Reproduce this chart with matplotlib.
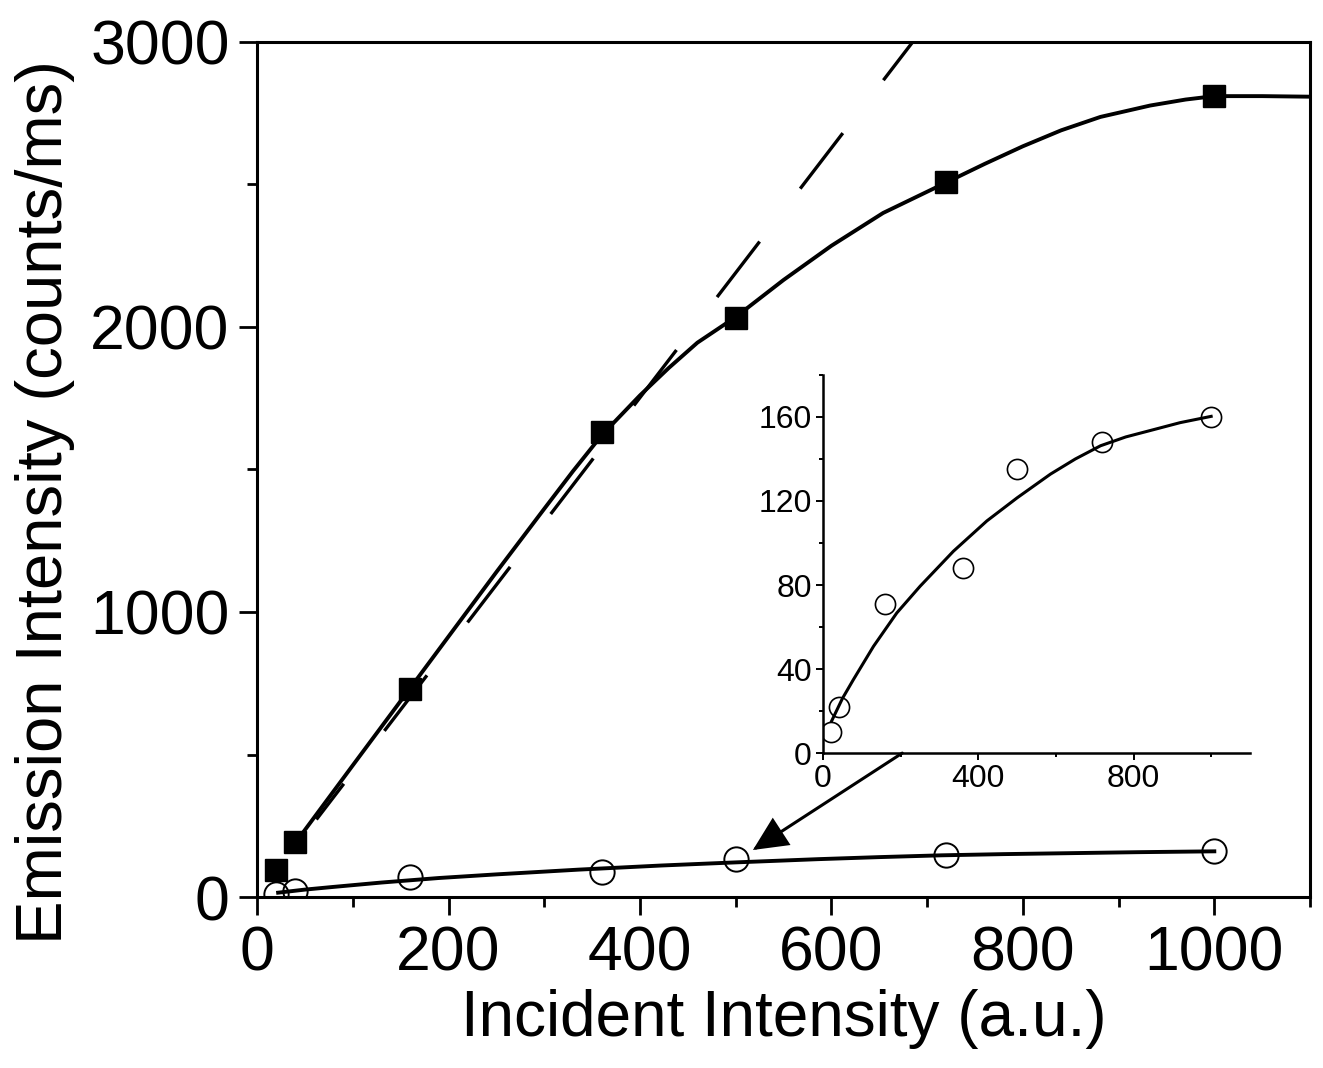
import matplotlib
matplotlib.use("Agg")
import matplotlib.pyplot as plt
from matplotlib.ticker import MultipleLocator

plt.rcParams['font.family'] = ['Liberation Sans', 'DejaVu Sans']

# ---- data ----
incident = [20, 40, 160, 360, 500, 720, 1000]
emission_filled = [95, 192, 730, 1632, 2032, 2510, 2812]
emission_open = [10, 22, 71, 88, 135, 148, 160]

fit_filled_x = [40, 100, 160, 250, 300, 330, 360, 400, 430, 460, 500, 550, 600,
                654, 720, 760, 800, 840, 881, 933, 970, 1000, 1050, 1100]
fit_filled_y = [190, 462, 733, 1140, 1362, 1494, 1620, 1760, 1856, 1945, 2035, 2165, 2285,
                2400, 2507, 2572, 2634, 2690, 2737, 2777, 2798, 2810, 2810, 2808]

fit_open_x = [22, 50, 78, 130, 190, 250, 336, 422, 500, 586, 650, 715, 780, 844, 920, 1000]
fit_open_y = [15.2, 26, 34.9, 50.8, 66.7, 79.4, 96.1, 110.5, 121.5, 132.8, 140, 146.3, 150.5, 153.6, 157.3, 160.3]

linear_x = [62, 700]
linear_y = [272, 3066]

main_xticks = [0, 200, 400, 600, 800, 1000]
main_yticks = [0, 1000, 2000, 3000]
inset_xticks = [0, 400, 800]
inset_yticks = [0, 40, 80, 120, 160]

fig = plt.figure(figsize=(13.23, 10.68), dpi=100)
ax = fig.add_axes([0.1943, 0.1601, 0.7959, 0.8006])

ax.plot(fit_filled_x, fit_filled_y, color='black', lw=2.8, zorder=3,
        solid_joinstyle='round')
ax.plot(linear_x, linear_y, color='black', lw=2.4, ls=(7.5, (21, 20)), zorder=2)
ax.plot(fit_open_x, fit_open_y, color='black', lw=2.8, zorder=3,
        solid_joinstyle='round')
ax.plot(incident, emission_filled, ls='none', marker='s', ms=16.5, color='black', zorder=4)
ax.plot(incident, emission_open, ls='none', marker='o', ms=17.5, mfc='none', mec='black', mew=1.4, zorder=4)

ax.set_xlim(0, 1100)
ax.set_ylim(0, 3000)
ax.set_xticks(main_xticks)
ax.set_yticks(main_yticks)
ax.xaxis.set_minor_locator(MultipleLocator(100))
ax.yaxis.set_minor_locator(MultipleLocator(500))
ax.tick_params(which='major', direction='out', length=12.7, width=2.0, labelsize=45, pad=7)
ax.tick_params(which='minor', direction='out', length=7, width=2.0)
ax.tick_params(axis='x', top=False)
ax.tick_params(axis='y', right=False)
for s in ax.spines.values():
    s.set_linewidth(2.2)

ax.set_xlabel('Incident Intensity (a.u.)', fontsize=46, labelpad=4)
ax.set_ylabel('Emission Intensity (counts/ms)', fontsize=47)
ax.yaxis.set_label_coords(-0.173, 0.462)

ax.annotate('', xy=(518, 165), xytext=(674, 505), xycoords='data',
            arrowprops=dict(arrowstyle='-|>,head_length=2.1,head_width=1.0',
                            color='black', lw=2.2, shrinkA=0, shrinkB=0,
                            joinstyle='miter'),
            zorder=5)

# ---- inset ----
ins = fig.add_axes([0.6221, 0.2949, 0.3227, 0.3540])
ins.plot(fit_open_x, fit_open_y, color='black', lw=2.2, solid_joinstyle='round')
ins.plot(incident, emission_open, ls='none', marker='o', ms=14.5, mfc='none', mec='black', mew=1.2)
ins.set_xlim(0, 1100)
ins.set_ylim(0, 180)
ins.set_xticks(inset_xticks)
ins.set_yticks(inset_yticks)
ins.xaxis.set_minor_locator(MultipleLocator(200))
ins.yaxis.set_minor_locator(MultipleLocator(20))
ins.spines['top'].set_visible(False)
ins.spines['right'].set_visible(False)
for s in ['left', 'bottom']:
    ins.spines[s].set_linewidth(1.8)
ins.tick_params(which='major', direction='out', length=5, width=1.4, labelsize=23, pad=3)
ins.tick_params(which='minor', direction='out', length=3, width=1.4)
ins.patch.set_alpha(0)

fig.savefig('out.png', dpi=100)
